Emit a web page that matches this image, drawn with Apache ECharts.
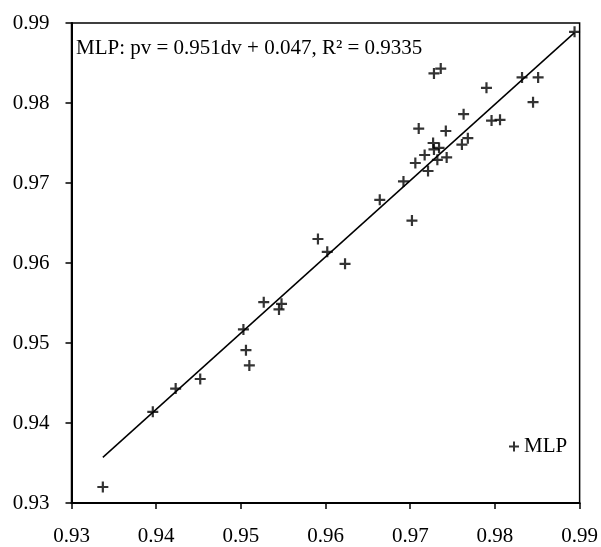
<!DOCTYPE html>
<html>
<head>
<meta charset="utf-8">
<script src="https://cdn.jsdelivr.net/npm/echarts@6/dist/echarts.min.js"></script>
<style>
html,body{margin:0;padding:0;background:#fff;}
#c{width:601px;height:547px;}
</style>
</head>
<body>
<div id="c"></div>
<script>
// Observed (dv) values
const mlpX = [0.9337,0.9396,0.9423,0.9452,0.9503,0.9506,0.9510,0.9527,0.9548,0.9545,
              0.9591,0.9602,0.9623,0.9664,0.9692,0.9702,0.9706,0.9710,0.9717,0.9721,
              0.9727,0.9734,0.9728,0.9732,0.9728,0.9736,0.9742,0.9743,0.9761,0.9763,
              0.9768,0.9790,0.9796,0.9806,0.9832,0.9851,0.9845,0.9894];
// Predicted (pv) values
const mlpY = [0.9320,0.9414,0.9443,0.9455,0.9517,0.9491,0.9472,0.9551,0.9549,0.9542,
              0.9630,0.9614,0.9599,0.9679,0.9702,0.9653,0.9725,0.9768,0.9735,0.9715,
              0.9750,0.9744,0.9742,0.9729,0.9837,0.9843,0.9765,0.9732,0.9748,0.9786,
              0.9756,0.9819,0.9778,0.9779,0.9832,0.9832,0.9801,0.9889];
// Trend line end points
const trendX = [0.9337, 0.9894];
const trendY = [0.9357, 0.9888];
const axisMin = 0.93, axisMax = 0.99, axisStep = 0.01;
const seriesName = 'MLP';
const equationText = 'MLP: pv = 0.951dv + 0.047, R² = 0.9335';

const FONT = '"Liberation Serif","Times New Roman",serif';
const plus = 'path://M4,0H6V4H10V6H6V10H4V6H0V4H4Z';

const chart = echarts.init(document.getElementById('c'), null, {renderer:'canvas'});
const axisCommon = {
  type:'value', min:axisMin, max:axisMax, interval:axisStep,
  axisLine:{show:true, onZero:false, lineStyle:{color:'#000', width:2}},
  axisTick:{show:true, inside:false, length:6, lineStyle:{color:'#000', width:1.5}},
  splitLine:{show:false},
  axisLabel:{color:'#000', fontFamily:FONT, fontSize:21,
    formatter:v=>v.toFixed(2)}
};
chart.setOption({
  animation:false,
  backgroundColor:'#fff',
  grid:{left:71.5, right:19, top:23, bottom:44, show:true, borderColor:'#000', borderWidth:1.5, backgroundColor:'transparent'},
  xAxis:Object.assign({}, axisCommon, {axisLabel:Object.assign({}, axisCommon.axisLabel, {margin:23})}),
  yAxis:Object.assign({}, axisCommon, {axisLabel:Object.assign({}, axisCommon.axisLabel, {margin:22})}),
  legend:{
    data:[{name:seriesName, icon:plus}],
    left:509, top:436, padding:0, itemWidth:10, itemHeight:10,
    textStyle:{color:'#000', fontFamily:FONT, fontSize:21}
  },
  graphic:[{
    type:'text', x:76, y:48,
    style:{text:equationText, fill:'#000', font:'21px '+FONT, verticalAlign:'middle', align:'left'}
  }],
  series:[
    {
      type:'line', name:'trend', data:trendX.map((x,i)=>[x,trendY[i]]),
      showSymbol:false, symbol:'none', lineStyle:{color:'#000', width:1.5}, z:2
    },
    {
      type:'scatter', name:seriesName, data:mlpX.map((x,i)=>[x,mlpY[i]]),
      symbol:plus, symbolSize:11, itemStyle:{color:'#000'}, z:3
    }
  ]
});
</script>
</body>
</html>
